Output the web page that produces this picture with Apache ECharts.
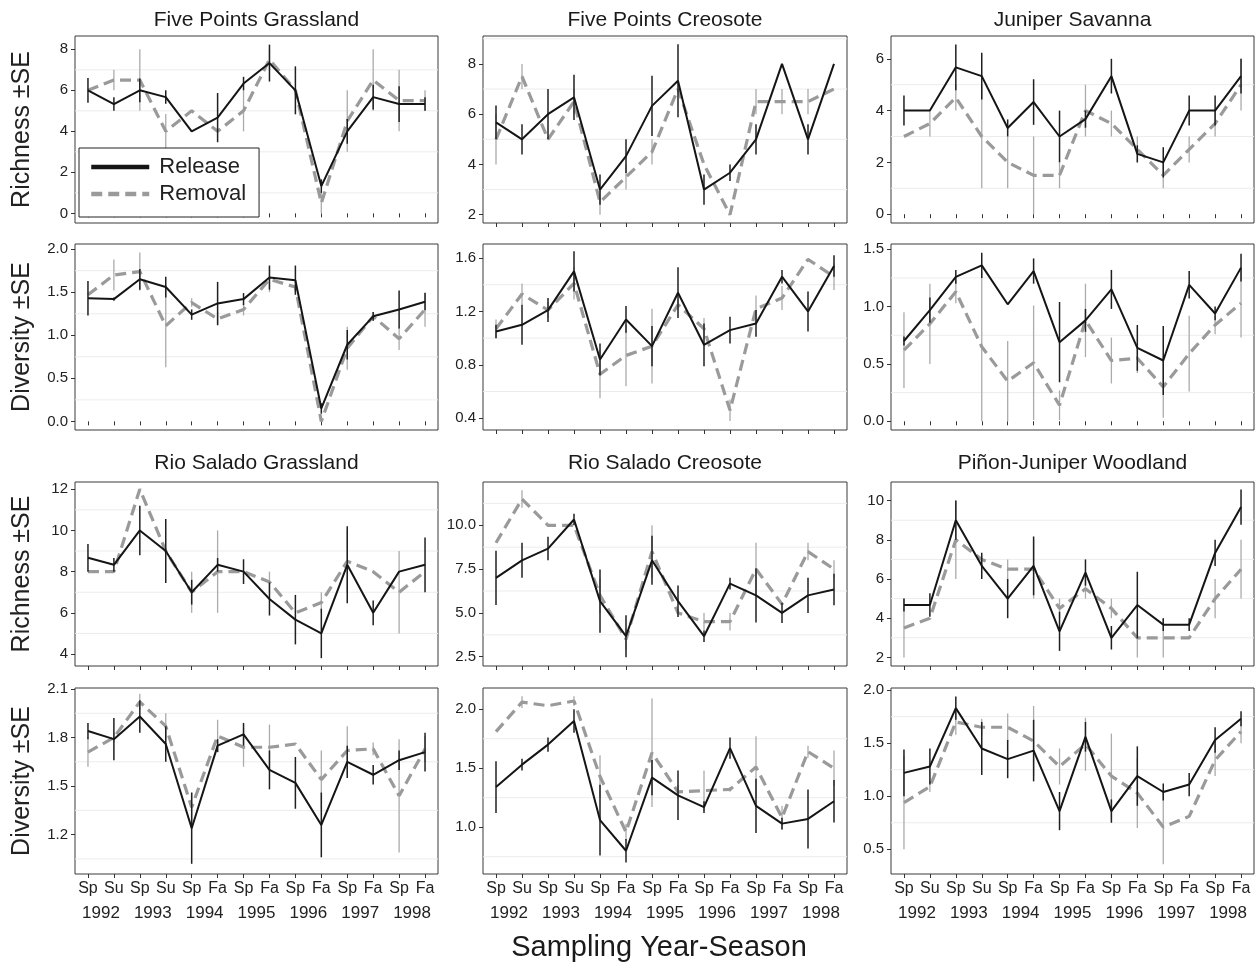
<!DOCTYPE html>
<html><head><meta charset="utf-8">
<script src="https://cdn.jsdelivr.net/npm/echarts@6/dist/echarts.min.js"></script>
<style>html,body{margin:0;padding:0;background:#fff}#c{width:1256px;height:971px}</style>
</head><body><div id="c"></div>
<script>
// ---- categories / tick labels ----
const seasons = ['Sp','Su','Sp','Su','Sp','Fa','Sp','Fa','Sp','Fa','Sp','Fa','Sp','Fa'];
const years = ['1992','1993','1994','1995','1996','1997','1998'];
const siteTitles = ['Five Points Grassland','Five Points Creosote','Juniper Savanna',
                    'Rio Salado Grassland','Rio Salado Creosote','Piñon-Juniper Woodland'];
const xAxisTitle = 'Sampling Year-Season';

// ---- Five Points Grassland ----
const fpgRichRelease   = [6, 5.33, 6, 5.67, 4, 4.67, 6.33, 7.33, 6, 1.33, 4, 5.67, 5.33, 5.33];
const fpgRichReleaseSE = [0.6, 0.33, 0.58, 0.33, 0, 1.2, 0.33, 0.9, 1.17, 0.33, 0.6, 0.6, 0.87, 0.33];
const fpgRichRemoval   = [6, 6.5, 6.5, 4, 5, 4, 5, 7.5, 6, 0.5, 4.5, 6.5, 5.5, 5.5];
const fpgRichRemovalSE = [0, 0.5, 1.5, 0.85, 0, 0, 1.0, 0.5, 0, 0.5, 1.5, 1.5, 1.5, 0.5];
const fpgDivRelease    = [1.43, 1.42, 1.65, 1.56, 1.24, 1.37, 1.42, 1.67, 1.64, 0.15, 0.89, 1.22, 1.30, 1.39];
const fpgDivReleaseSE  = [0.2, 0.02, 0.12, 0.12, 0.06, 0.25, 0.07, 0.14, 0.17, 0.06, 0.17, 0.05, 0.22, 0.1];
const fpgDivRemoval    = [1.47, 1.70, 1.74, 1.11, 1.38, 1.19, 1.30, 1.65, 1.56, 0.0, 0.85, 1.22, 0.96, 1.30];
const fpgDivRemovalSE  = [0, 0.18, 0.22, 0.48, 0.05, 0.08, 0.07, 0.15, 0, 0, 0.25, 0.05, 0.13, 0.2];

// ---- Five Points Creosote ----
const fpcRichRelease   = [5.67, 5, 6, 6.67, 3, 4.33, 6.33, 7.33, 3, 3.67, 5, 8, 5, 8];
const fpcRichReleaseSE = [0.67, 0.6, 1.0, 0.9, 0.6, 0.67, 1.2, 1.45, 0.6, 0.33, 0.6, 0, 0.6, 0];
const fpcRichRemoval   = [5, 7.5, 5, 6.5, 2.5, 3.5, 4.5, 7, 4, 2, 6.5, 6.5, 6.5, 7];
const fpcRichRemovalSE = [1.0, 0.5, 0, 0.5, 0.5, 0.5, 0.5, 0, 0, 0, 0.5, 0.5, 0.5, 0];
const fpcDivRelease    = [1.05, 1.10, 1.21, 1.50, 0.84, 1.14, 0.94, 1.34, 0.95, 1.06, 1.11, 1.46, 1.20, 1.54];
const fpcDivReleaseSE  = [0.05, 0.15, 0.09, 0.15, 0.12, 0.1, 0.15, 0.19, 0.16, 0.1, 0.1, 0.05, 0.15, 0.08];
const fpcDivRemoval    = [1.07, 1.33, 1.21, 1.41, 0.73, 0.87, 0.94, 1.25, 1.07, 0.46, 1.22, 1.30, 1.59, 1.46];
const fpcDivRemovalSE  = [0.07, 0.08, 0.06, 0.12, 0.18, 0.23, 0.28, 0.04, 0.08, 0.08, 0.1, 0.09, 0, 0.1];

// ---- Juniper Savanna ----
const jsRichRelease    = [4, 4, 5.67, 5.33, 3.33, 4.33, 3, 3.67, 5.33, 2.33, 2, 4, 4, 5.33];
const jsRichReleaseSE  = [0.58, 0, 0.88, 0.9, 0.33, 0.88, 1.0, 0.33, 0.67, 0.33, 0.58, 0.58, 0.58, 0.67];
const jsRichRemoval    = [3, 3.5, 4.5, 3, 2, 1.5, 1.5, 4, 3.5, 2.5, 1.5, 2.5, 3.5, 5];
const jsRichRemovalSE  = [0, 0.5, 0.5, 2.0, 1.0, 1.5, 0.5, 1.0, 0.5, 0.5, 0.5, 0.5, 0.5, 1.0];
const jsDivRelease     = [0.70, 0.97, 1.26, 1.36, 1.02, 1.31, 0.69, 0.88, 1.15, 0.64, 0.53, 1.19, 0.94, 1.34];
const jsDivReleaseSE   = [0.04, 0.11, 0.06, 0.11, 0, 0.11, 0.35, 0.1, 0.17, 0.2, 0.3, 0.12, 0.06, 0.12];
const jsDivRemoval     = [0.62, 0.85, 1.13, 0.65, 0.35, 0.51, 0.14, 0.88, 0.53, 0.55, 0.30, 0.59, 0.84, 1.03];
const jsDivRemovalSE   = [0.33, 0.35, 0.1, 0.65, 0.35, 0.5, 0.13, 0.32, 0.2, 0.13, 0.27, 0.33, 0.08, 0.3];

// ---- Rio Salado Grassland ----
const rsgRichRelease   = [8.67, 8.33, 10, 9, 7, 8.33, 8, 6.67, 5.67, 5, 8.33, 6, 8, 8.33];
const rsgRichReleaseSE = [0.67, 0.33, 1.2, 1.55, 0.6, 0.33, 0.6, 0.8, 1.2, 1.2, 1.87, 0.6, 0, 1.33];
const rsgRichRemoval   = [8, 8, 12, 9, 7, 8, 8, 7.5, 6, 6.5, 8.5, 8, 7, 8];
const rsgRichRemovalSE = [0, 0, 0, 0, 1.0, 2.0, 0, 0.5, 0, 0.5, 1.5, 0, 2.0, 0];
const rsgDivRelease    = [1.84, 1.79, 1.93, 1.76, 1.24, 1.75, 1.82, 1.60, 1.52, 1.26, 1.65, 1.57, 1.66, 1.71];
const rsgDivReleaseSE  = [0.05, 0.13, 0.1, 0.11, 0.22, 0.04, 0.07, 0.12, 0.16, 0.2, 0.1, 0.06, 0.06, 0.12];
const rsgDivRemoval    = [1.71, 1.80, 2.02, 1.87, 1.37, 1.81, 1.74, 1.74, 1.76, 1.54, 1.72, 1.73, 1.44, 1.73];
const rsgDivRemovalSE  = [0.09, 0.03, 0.05, 0.08, 0.09, 0.1, 0.12, 0.14, 0, 0.18, 0.15, 0.04, 0.35, 0.08];

// ---- Rio Salado Creosote ----
const rscRichRelease   = [7, 8, 8.67, 10.33, 5.67, 3.67, 8, 5.67, 3.67, 6.67, 6, 5, 6, 6.33];
const rscRichReleaseSE = [1.55, 1.0, 0.67, 0.33, 1.8, 1.2, 1.4, 0.9, 0.33, 0.33, 1.55, 0.58, 1.0, 0.9];
const rscRichRemoval   = [9, 11.5, 10, 10, 6, 3.5, 8.5, 5, 4.5, 4.5, 7.5, 5.5, 8.5, 7.5];
const rscRichRemovalSE = [0, 0.5, 0, 0, 1.0, 0.6, 1.5, 0, 0.5, 0.5, 1.5, 0, 0.5, 0.5];
const rscDivRelease    = [1.34, 1.53, 1.70, 1.90, 1.06, 0.80, 1.42, 1.27, 1.17, 1.67, 1.18, 1.03, 1.07, 1.22];
const rscDivReleaseSE  = [0.22, 0.05, 0.06, 0.1, 0.3, 0.1, 0.15, 0.21, 0.05, 0.09, 0.23, 0.05, 0.25, 0.18];
const rscDivRemoval    = [1.81, 2.06, 2.03, 2.07, 1.43, 0.96, 1.63, 1.30, 1.31, 1.32, 1.51, 1.08, 1.64, 1.50];
const rscDivRemovalSE  = [0, 0.05, 0, 0.04, 0.18, 0.07, 0.46, 0.06, 0.17, 0.02, 0.26, 0.1, 0.05, 0.15];

// ---- Piñon-Juniper Woodland ----
const pjwRichRelease   = [4.67, 4.67, 9, 6.67, 5, 6.67, 3.33, 6.33, 3, 4.67, 3.67, 3.67, 7.33, 9.67];
const pjwRichReleaseSE = [0.33, 0.6, 1.0, 0.67, 1.0, 1.5, 1.0, 0.67, 0.6, 1.7, 0.33, 0.33, 0.67, 0.9];
const pjwRichRemoval   = [3.5, 4, 8, 7, 6.5, 6.5, 4.5, 5.5, 4.5, 3, 3, 3, 5, 6.5];
const pjwRichRemovalSE = [1.5, 0, 2.0, 0, 0.5, 1.5, 0.5, 0.5, 0.5, 1.0, 1.0, 0, 1.0, 1.5];
const pjwDivRelease    = [1.22, 1.28, 1.83, 1.45, 1.35, 1.43, 0.86, 1.56, 0.86, 1.19, 1.04, 1.11, 1.53, 1.73];
const pjwDivReleaseSE  = [0.22, 0.17, 0.11, 0.25, 0.18, 0.29, 0.18, 0.14, 0.11, 0.28, 0.08, 0.11, 0.12, 0.07];
const pjwDivRemoval    = [0.94, 1.09, 1.70, 1.65, 1.65, 1.52, 1.28, 1.49, 1.19, 1.03, 0.71, 0.81, 1.34, 1.61];
const pjwDivRemovalSE  = [0.44, 0.05, 0.12, 0.08, 0.13, 0.33, 0.17, 0.25, 0.4, 0.33, 0.35, 0, 0.15, 0.11];

// ---- per-panel axis settings (row-major: 4 rows x 3 columns) ----
const panels = [
  {rel: fpgRichRelease, relSE: fpgRichReleaseSE, rem: fpgRichRemoval, remSE: fpgRichRemovalSE, min: -0.47, max: 8.65, step: 2, dec: 0, minors: [1,3,5,7]},
  {rel: fpcRichRelease, relSE: fpcRichReleaseSE, rem: fpcRichRemoval, remSE: fpcRichRemovalSE, min: 1.67, max: 9.11, step: 2, dec: 0, minors: [3,5,7,9]},
  {rel: jsRichRelease,  relSE: jsRichReleaseSE,  rem: jsRichRemoval,  remSE: jsRichRemovalSE,  min: -0.34, max: 6.88, step: 2, dec: 0, minors: [1,3,5]},
  {rel: fpgDivRelease,  relSE: fpgDivReleaseSE,  rem: fpgDivRemoval,  remSE: fpgDivRemovalSE,  min: -0.10, max: 2.06, step: 0.5, dec: 1, minors: [0.25,0.75,1.25,1.75]},
  {rel: fpcDivRelease,  relSE: fpcDivReleaseSE,  rem: fpcDivRemoval,  remSE: fpcDivRemovalSE,  min: 0.312, max: 1.705, step: 0.4, dec: 1, minors: [0.6,1.0,1.4]},
  {rel: jsDivRelease,   relSE: jsDivReleaseSE,   rem: jsDivRemoval,   remSE: jsDivRemovalSE,   min: -0.076, max: 1.546, step: 0.5, dec: 1, minors: [0.25,0.75,1.25]},
  {rel: rsgRichRelease, relSE: rsgRichReleaseSE, rem: rsgRichRemoval, remSE: rsgRichRemovalSE, min: 3.42, max: 12.35, step: 2, dec: 0, minors: [5,7,9,11]},
  {rel: rscRichRelease, relSE: rscRichReleaseSE, rem: rscRichRemoval, remSE: rscRichRemovalSE, min: 1.97, max: 12.47, step: 2.5, dec: 1, minors: [3.75,6.25,8.75,11.25]},
  {rel: pjwRichRelease, relSE: pjwRichReleaseSE, rem: pjwRichRemoval, remSE: pjwRichRemovalSE, min: 1.56, max: 10.95, step: 2, dec: 0, minors: [3,5,7,9]},
  {rel: rsgDivRelease,  relSE: rsgDivReleaseSE,  rem: rsgDivRemoval,  remSE: rsgDivRemovalSE,  min: 0.957, max: 2.106, step: 0.3, dec: 1, minors: [1.05,1.35,1.65,1.95]},
  {rel: rscDivRelease,  relSE: rscDivReleaseSE,  rem: rscDivRemoval,  remSE: rscDivRemovalSE,  min: 0.603, max: 2.18, step: 0.5, dec: 1, minors: [0.75,1.25,1.75]},
  {rel: pjwDivRelease,  relSE: pjwDivReleaseSE,  rem: pjwDivRemoval,  remSE: pjwDivRemovalSE,  min: 0.267, max: 2.02, step: 0.5, dec: 1, minors: [0.75,1.25,1.75]}
];

// ---- layout & style ----
const FONT = '"Liberation Sans", Arial, Helvetica, sans-serif';
const colLeft = [75, 483, 891], colWidth = [363, 364, 363];
const rowTop = [36, 244, 482, 688], rowHeight = [187, 186, 184, 186];
const titleY = [20, 463];
const RELEASE_COLOR = '#151515', REMOVAL_COLOR = '#9a9a9a';
const RELEASE_BAR = '#202020', REMOVAL_BAR = '#ababab';

const grid = [], xAxis = [], yAxis = [], series = [], title = [];

function errBarRender(color, width) {
  return function (params, api) {
    const se = api.value(2);
    if (!se) return null;
    const i = api.value(0), v = api.value(1);
    const a = api.coord([i, v - se]), b = api.coord([i, v + se]);
    return {type: 'line', shape: {x1: a[0], y1: a[1], x2: b[0], y2: b[1]},
            style: {stroke: color, lineWidth: width}};
  };
}
function gridLineRender(params, api) {
  const cs = params.coordSys;
  const y = api.coord([0, api.value(1)])[1];
  return {type: 'line', shape: {x1: cs.x, y1: y, x2: cs.x + cs.width, y2: y},
          style: {stroke: '#ececec', lineWidth: 1}};
}

panels.forEach((pn, p) => {
  const r = Math.floor(p / 3), c = p % 3;
  grid.push({left: colLeft[c], top: rowTop[r], width: colWidth[c], height: rowHeight[r],
             show: true, borderColor: '#3a3a3a', borderWidth: 1, backgroundColor: '#fff'});
  const xi = xAxis.length;
  xAxis.push({type: 'category', gridIndex: p, data: seasons, boundaryGap: true, position: 'bottom',
              axisLine: {show: false},
              axisTick: {show: true, alignWithLabel: true, length: 4, lineStyle: {color: '#333'}},
              axisLabel: {show: r === 3, interval: 0, fontSize: 16, color: '#222', margin: 7, fontFamily: FONT},
              splitLine: {show: false}});
  if (r === 3) {
    xAxis.push({type: 'category', gridIndex: p, data: years, boundaryGap: true, position: 'bottom',
                axisLine: {show: false}, axisTick: {show: false},
                axisLabel: {show: true, interval: 0, fontSize: 17, color: '#222', margin: 31, fontFamily: FONT},
                splitLine: {show: false}});
  }
  yAxis.push({type: 'value', gridIndex: p, min: pn.min, max: pn.max,
              minInterval: pn.step, maxInterval: pn.step,
              axisLine: {show: false},
              axisTick: {show: true, length: 4, lineStyle: {color: '#333'}},
              axisLabel: {showMinLabel: false, showMaxLabel: false, fontSize: 15, color: '#222', margin: 7, fontFamily: FONT,
                          formatter: function (v) {
                            const k = v / pn.step;
                            if (Math.abs(k - Math.round(k)) > 1e-6) return '';
                            return v.toFixed(pn.dec);
                          }},
              splitLine: {show: false},
              name: c === 0 ? (r % 2 === 0 ? 'Richness ±SE' : 'Diversity ±SE') : '',
              nameLocation: 'middle', nameGap: 40,
              nameTextStyle: {fontSize: 25, color: '#222', fontFamily: FONT}});
  series.push({type: 'custom', name: 'grid', xAxisIndex: xi, yAxisIndex: p, silent: true, z: 1,
               renderItem: gridLineRender, data: pn.minors.map(v => [0, v]), encode: {x: 0, y: 1}});
  series.push({type: 'custom', name: 'Removal SE', xAxisIndex: xi, yAxisIndex: p, silent: true, z: 2,
               renderItem: errBarRender(REMOVAL_BAR, 1.3),
               data: pn.rem.map((v, i) => [i, v, pn.remSE[i]]), encode: {x: 0, y: 1}});
  series.push({type: 'line', name: 'Removal', xAxisIndex: xi, yAxisIndex: p, silent: true, z: 3,
               symbol: 'none', data: pn.rem,
               lineStyle: {color: REMOVAL_COLOR, width: 3.2, type: [11, 6]}, itemStyle: {color: REMOVAL_COLOR}});
  series.push({type: 'custom', name: 'Release SE', xAxisIndex: xi, yAxisIndex: p, silent: true, z: 4,
               renderItem: errBarRender(RELEASE_BAR, 1.5),
               data: pn.rel.map((v, i) => [i, v, pn.relSE[i]]), encode: {x: 0, y: 1}});
  series.push({type: 'line', name: 'Release', xAxisIndex: xi, yAxisIndex: p, silent: true, z: 5,
               symbol: 'none', data: pn.rel,
               lineStyle: {color: RELEASE_COLOR, width: 2}, itemStyle: {color: RELEASE_COLOR}});
});

siteTitles.forEach((t, s) => {
  const c = s % 3, tr = s < 3 ? 0 : 1;
  title.push({text: t, left: colLeft[c] + colWidth[c] / 2, top: titleY[tr], padding: 0,
              textAlign: 'center', textVerticalAlign: 'middle',
              textStyle: {fontSize: 21, fontWeight: 'normal', color: '#1a1a1a', fontFamily: FONT}});
});
title.push({text: xAxisTitle, left: 659, top: 948, padding: 0, textAlign: 'center', textVerticalAlign: 'middle',
            textStyle: {fontSize: 29, fontWeight: 'normal', color: '#1a1a1a', fontFamily: FONT}});

const chart = echarts.init(document.getElementById('c'), null, {renderer: 'canvas'});
chart.setOption({
  backgroundColor: '#fff',
  animation: false,
  title: title,
  legend: {data: ['Release', 'Removal'], orient: 'vertical', left: 79, top: 148,
           itemWidth: 58, itemHeight: 22, itemGap: 5, padding: [8, 13, 12, 10],
           borderColor: '#222', borderWidth: 1, backgroundColor: '#fff', selectedMode: false,
           lineStyle: {width: 4.5},
           itemStyle: {opacity: 0, borderWidth: 0},
           textStyle: {fontSize: 22, color: '#222', fontFamily: FONT, padding: [0, 0, 0, 5]}},
  grid: grid, xAxis: xAxis, yAxis: yAxis, series: series
});
</script></body></html>
